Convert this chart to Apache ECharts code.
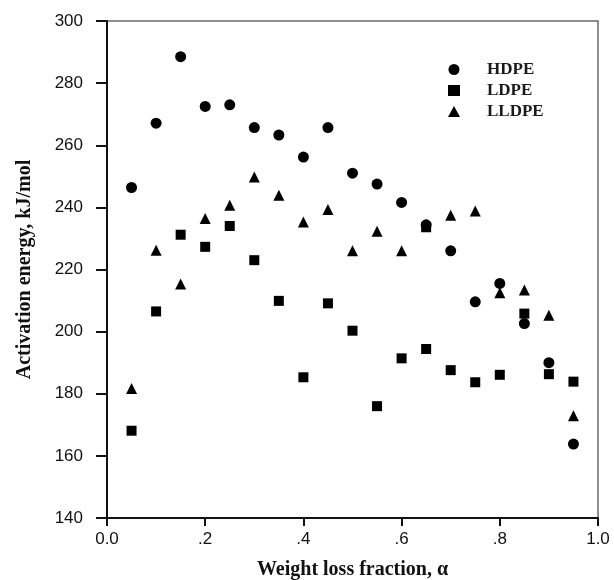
<!DOCTYPE html>
<html>
<head>
<meta charset="utf-8">
<script src="https://cdn.jsdelivr.net/npm/echarts@6/dist/echarts.min.js"></script>
<style>html,body{margin:0;padding:0;background:#fff;}#c{width:614px;height:580px;}</style>
</head>
<body>
<div id="c"></div>
<script>
// Data
var alphaHDPE = [0.05,0.10,0.15,0.20,0.25,0.30,0.35,0.40,0.45,0.50,0.55,0.60,0.65,0.70,0.75,0.80,0.85,0.90,0.95];
var energyHDPE = [246.4,267.1,288.5,272.5,273.0,265.7,263.3,256.2,265.7,251.0,247.5,241.6,234.4,226.0,209.6,215.5,202.6,190.0,163.8];

var alphaLDPE = [0.05,0.10,0.15,0.20,0.25,0.30,0.35,0.40,0.45,0.50,0.55,0.60,0.65,0.65,0.70,0.75,0.80,0.85,0.90,0.95];
var energyLDPE = [168.1,206.5,231.2,227.3,234.0,223.0,209.9,185.3,209.1,200.3,176.0,191.4,194.4,233.6,187.6,183.7,186.1,205.8,186.3,183.9];

var alphaLLDPE = [0.05,0.10,0.15,0.20,0.25,0.30,0.35,0.40,0.45,0.50,0.55,0.60,0.70,0.75,0.80,0.85,0.90,0.95];
var energyLLDPE = [181.7,226.2,215.3,236.4,240.7,249.8,243.9,235.3,239.3,226.0,232.3,226.0,237.5,238.8,212.5,213.4,205.3,172.9];

var seriesNames = ['HDPE','LDPE','LLDPE'];
var yTicks = [140,160,180,200,220,240,260,280,300];
var xTickLabels = {0:'0.0',0.2:'.2',0.4:'.4',0.6:'.6',0.8:'.8',1:'1.0'};

function pairs(xs, ys){ return xs.map(function(x,i){ return [x, ys[i]]; }); }

var chart = echarts.init(document.getElementById('c'), null, {renderer:'canvas'});
var serif = '"Liberation Serif", "Times New Roman", serif';
var sans = '"Liberation Sans", Arial, sans-serif';

chart.setOption({
  animation: false,
  backgroundColor: '#fff',
  grid: {left: 107, right: 16, top: 21, bottom: 62, containLabel: false, outerBoundsMode: 'none',
    show: true, borderColor: '#6a6a6a', borderWidth: 1.5, backgroundColor: 'transparent'},
  legend: {
    orient: 'vertical', left: 443, top: 54,
    itemWidth: 12, itemHeight: 11, itemGap: 0,
    data: seriesNames,
    textStyle: {fontFamily: serif, fontSize: 17, fontWeight: 'bold', color: '#1a1a1a', lineHeight: 21, padding: [0,0,0,22]}
  },
  xAxis: {
    type: 'value', min: 0, max: 1, interval: 0.2,
    name: 'Weight loss fraction, \u03b1', nameLocation: 'middle', nameGap: 42,
    nameTextStyle: {fontFamily: serif, fontSize: 20, fontWeight: 'bold', color: '#111'},
    axisLine: {show: true, lineStyle: {color: '#111', width: 2}},
    axisTick: {show: true, inside: false, length: 8, lineStyle: {color: '#111', width: 2}},
    axisLabel: {margin: 13, fontFamily: sans, fontSize: 17, color: '#111',
      formatter: function(v){ var k = Math.round(v*10)/10; return xTickLabels[k] !== undefined ? xTickLabels[k] : ''; }},
    splitLine: {show: false}
  },
  yAxis: {
    type: 'value', min: yTicks[0], max: yTicks[yTicks.length-1], interval: 20,
    name: 'Activation energy, kJ/mol', nameLocation: 'middle', nameGap: 72,
    nameTextStyle: {fontFamily: serif, fontSize: 20, fontWeight: 'bold', color: '#111'},
    axisLine: {show: true, lineStyle: {color: '#111', width: 2}},
    axisTick: {show: true, inside: false, length: 11, lineStyle: {color: '#111', width: 2}},
    axisLabel: {margin: 24, fontFamily: sans, fontSize: 17, color: '#111'},
    splitLine: {show: false}
  },
  series: [
    {name: seriesNames[0], type: 'scatter', symbol: 'circle', symbolSize: 11, itemStyle: {color: '#000', opacity: 1}, data: pairs(alphaHDPE, energyHDPE)},
    {name: seriesNames[1], type: 'scatter', symbol: 'rect', symbolSize: 10, itemStyle: {color: '#000', opacity: 1}, data: pairs(alphaLDPE, energyLDPE)},
    {name: seriesNames[2], type: 'scatter', symbol: 'triangle', symbolSize: 11, itemStyle: {color: '#000', opacity: 1}, data: pairs(alphaLLDPE, energyLLDPE)}
  ]
});
</script>
</body>
</html>
